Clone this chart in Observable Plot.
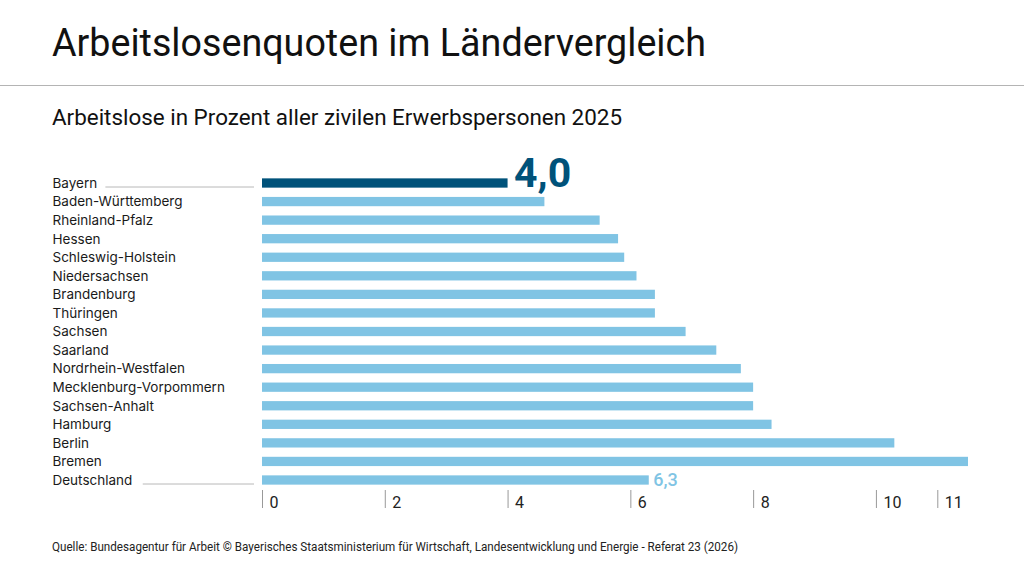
<!DOCTYPE html>
<html><head><meta charset="utf-8">
<script src="https://cdn.jsdelivr.net/npm/d3@7"></script>
<script src="https://cdn.jsdelivr.net/npm/@observablehq/plot@0.6"></script>
<style>
body{margin:0;background:#fff;font-family:Roboto,sans-serif;color:#111}
#page{position:relative;width:1024px;height:570px;overflow:hidden}
.fit{position:absolute;left:52px;white-space:nowrap;transform-origin:0 0;line-height:1;display:inline-block}
#title{top:24px;font-size:39px;font-weight:400}
#rule{position:absolute;left:0;top:85px;width:1024px;height:0;border-top:1.5px solid #b4b4b4}
#subtitle{top:107px;font-size:22px;font-weight:400}
#footer{top:541px;font-size:12px;font-weight:400;color:#222}
#chart{position:absolute;left:0;top:160px}
</style></head>
<body><div id="page">
<div id="title" class="fit" data-w="654">Arbeitslosenquoten im Ländervergleich</div>
<div id="rule"></div>
<div id="subtitle" class="fit" data-w="570">Arbeitslose in Prozent aller zivilen Erwerbspersonen 2025</div>
<div id="chart"></div>
<div id="footer" class="fit" data-w="686">Quelle: Bundesagentur für Arbeit © Bayerisches Staatsministerium für Wirtschaft, Landesentwicklung und Energie - Referat 23 (2026)</div>
</div>
<script>
const laender = ["Bayern","Baden-Württemberg","Rheinland-Pfalz","Hessen","Schleswig-Holstein","Niedersachsen","Brandenburg","Thüringen","Sachsen","Saarland","Nordrhein-Westfalen","Mecklenburg-Vorpommern","Sachsen-Anhalt","Hamburg","Berlin","Bremen","Deutschland"];
const quoten = [4.0,4.6,5.5,5.8,5.9,6.1,6.4,6.4,6.9,7.4,7.8,8.0,8.0,8.3,10.3,11.5,6.3];
const xTicks = [0,2,4,6,8,10,11];
const hervorgehoben = ["Bayern","Deutschland"];

const DARK = "#00527a", LIGHT = "#80c4e4";
const data = laender.map((name, i) => ({name, value: quoten[i]}));
const fmt = v => v.toFixed(1).replace(".", ",");

const W = 1024, ML = 262, MR = 56;
const labelSize = 13.5, labelSpacing = 0.45;
const labelLeft = 52;
const cv = document.createElement("canvas").getContext("2d");
cv.font = `${labelSize}px Inter`;

const xDomain = [0, 11.5];
const xs = Plot.scale({x: {domain: xDomain, range: [ML, W - MR]}});

const leaderData = hervorgehoben.map(name => {
  const w = cv.measureText(name).width + name.length * labelSpacing;
  return {name, x1: xs.invert(labelLeft + w + 6), x2: xs.invert(ML - 8)};
});

const step = (320 - 23) / 16;
const yStart = 23 - 0.75 * step;

const chart = Plot.plot({
  width: W,
  height: 360,
  marginLeft: ML,
  marginRight: MR,
  marginTop: 0,
  marginBottom: 30,
  style: {fontFamily: "Inter", background: "transparent", overflow: "visible"},
  x: {domain: xDomain, axis: null},
  y: {domain: laender, range: [yStart, yStart + 17.5 * step], padding: 0.5, round: false, axis: null},
  color: {type: "identity"},
  marks: [
    Plot.axisY({tickSize: 0, tickPadding: 0, textAnchor: "start", dx: labelLeft - ML, fontSize: labelSize, fill: "#1a1a1a", label: null, style: `letter-spacing:${labelSpacing}px`}),
    Plot.ruleY(leaderData, {y: "name", x1: "x1", x2: "x2", dy: 3.5, stroke: "#b8b8b8", strokeWidth: 1}),
    Plot.barX(data, {x: "value", y: "name", fill: d => d.name === "Bayern" ? DARK : LIGHT}),
    Plot.axisX({ticks: xTicks, tickSize: 18, stroke: "#999", strokeWidth: 1, text: null, label: null}),
    Plot.axisX({ticks: xTicks, tickSize: 0, tickPadding: 0, textAnchor: "start", lineAnchor: "middle", dx: 7, dy: 12, fontSize: 16, fontFamily: "Roboto", fill: "#222", tickFormat: d => String(d), label: null}),
    Plot.text(data.filter(d => d.name === "Bayern"), {x: "value", y: "name", text: d => fmt(d.value), textAnchor: "start", lineAnchor: "bottom", dx: 6, dy: 3, fontSize: 41, fontWeight: 700, fontFamily: "Roboto", fill: DARK}),
    Plot.text(data.filter(d => d.name === "Deutschland"), {x: "value", y: "name", text: d => fmt(d.value), textAnchor: "start", lineAnchor: "bottom", dx: 4, dy: 5, fontSize: 18, fontWeight: 500, fontFamily: "Roboto", fill: LIGHT})
  ]
});
document.getElementById("chart").appendChild(chart);

document.querySelectorAll(".fit").forEach(el => {
  const target = +el.dataset.w;
  const w = el.getBoundingClientRect().width;
  el.style.transform = `scaleX(${target / w})`;
});
</script>
</body></html>
